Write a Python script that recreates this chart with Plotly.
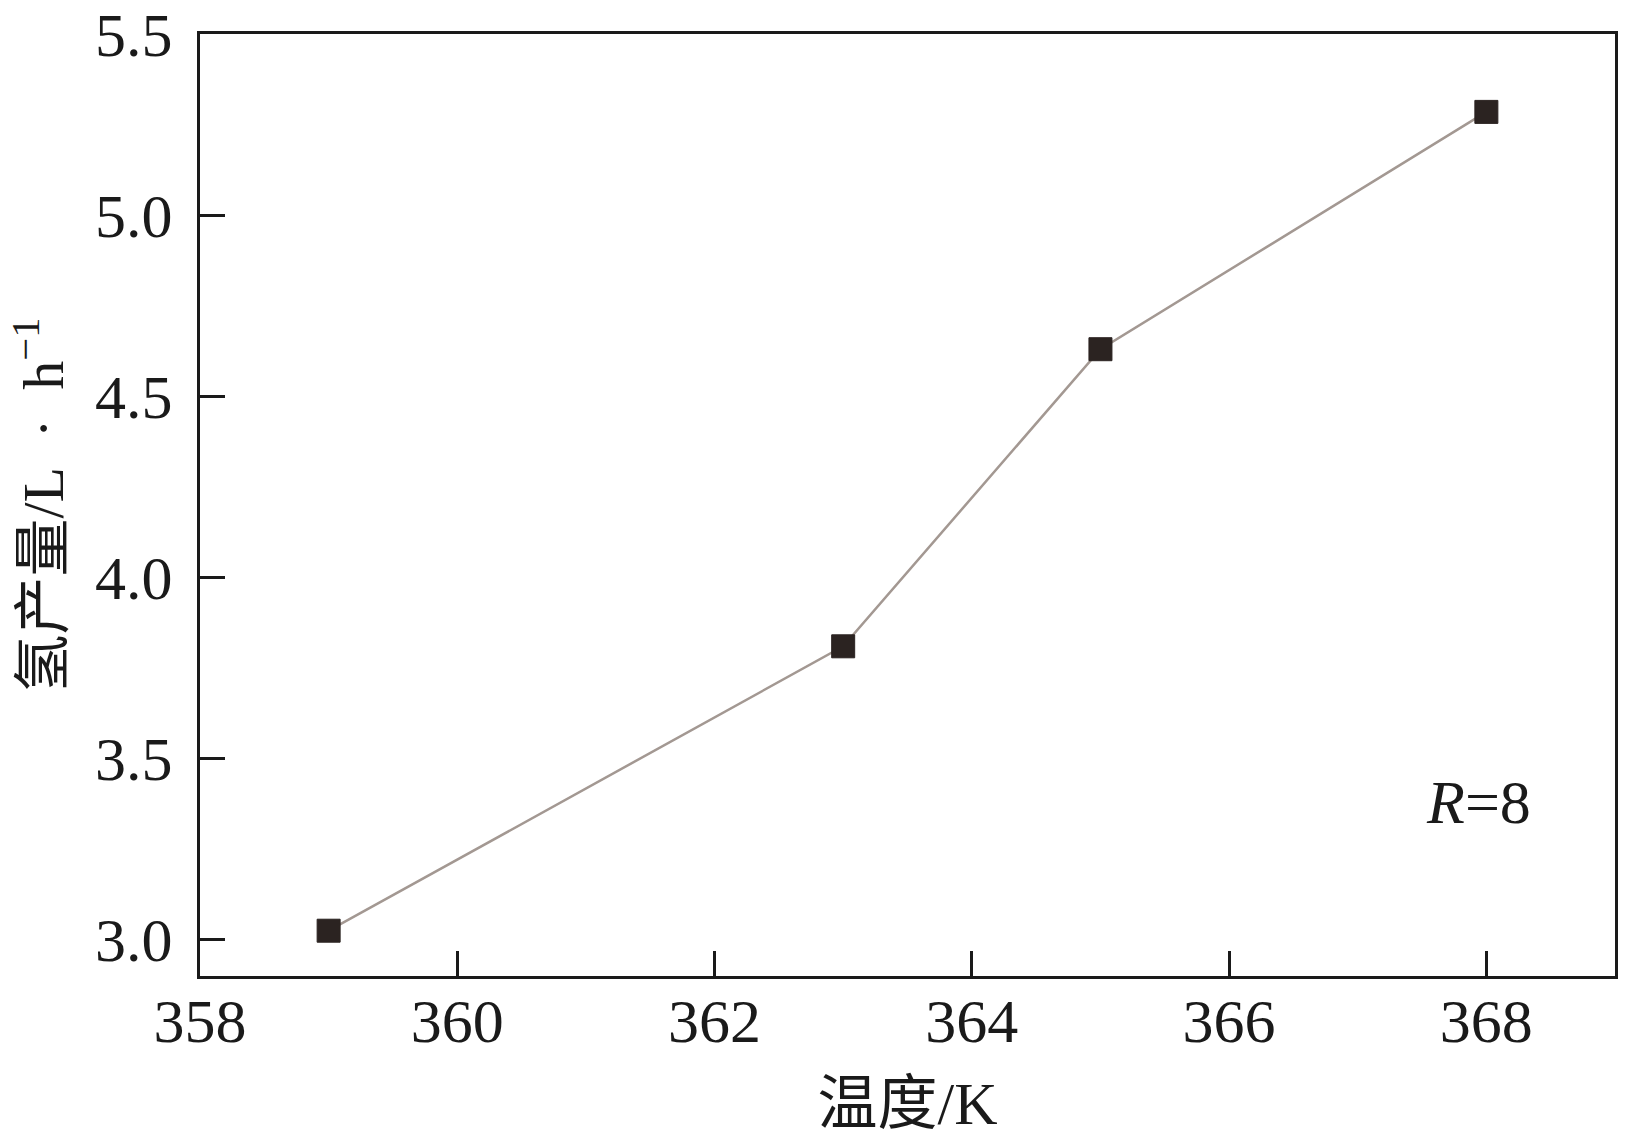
import plotly.graph_objects as go

temperature = [359, 363, 365, 368]
hydrogen_yield = [3.025, 3.81, 4.63, 5.285]
x_ticks = [358, 360, 362, 364, 366, 368]
y_ticks = [3.0, 3.5, 4.0, 4.5, 5.0, 5.5]
y_tick_labels = ["3.0", "3.5", "4.0", "4.5", "5.0", "5.5"]

SERIF = "Liberation Serif, Noto Sans CJK SC, serif"

fig = go.Figure()
fig.add_trace(go.Scatter(
    x=temperature, y=hydrogen_yield, mode="lines+markers",
    line=dict(color="#a39892", width=2.5),
    marker=dict(symbol="square", size=23, color="#2b2321",
                line=dict(color="#2b2321", width=1)),
    showlegend=False,
))

fig.add_annotation(
    x=367.94, y=3.38, xref="x", yref="y",
    text="<i>R</i>=8", showarrow=False,
    font=dict(family=SERIF, size=62, color="#1a1a1a"),
)

axis_common = dict(
    showline=True, linecolor="#1a1a1a", linewidth=3, mirror=True,
    ticks="inside", ticklen=25, tickwidth=3, tickcolor="#1a1a1a",
    showgrid=False, zeroline=False, automargin=False,
    ticklabeloverflow="allow",
    tickfont=dict(family=SERIF, size=62, color="#1a1a1a"),
)

fig.update_layout(
    width=1630, height=1141,
    margin=dict(l=200, r=15, t=34, b=165),
    plot_bgcolor="white", paper_bgcolor="white",
    xaxis=dict(range=[358, 369], tickvals=x_ticks, ticklabelstandoff=-11,
               title=dict(text="温度/K", standoff=28,
                          font=dict(family=SERIF, size=60, color="#1a1a1a")),
               **axis_common),
    yaxis=dict(range=[2.9, 5.5], tickvals=y_ticks, ticktext=y_tick_labels,
               ticklabelstandoff=12,
               title=dict(text="氢产量/L\u2002·\u2002h<sup>−1</sup>", standoff=13,
                          font=dict(family=SERIF, size=58, color="#1a1a1a")),
               **axis_common),
)

fig.write_html(
    "out.html",
    config={"displayModeBar": False},
    post_script="document.body.style.margin='0px';document.body.style.overflow='hidden';",
)
